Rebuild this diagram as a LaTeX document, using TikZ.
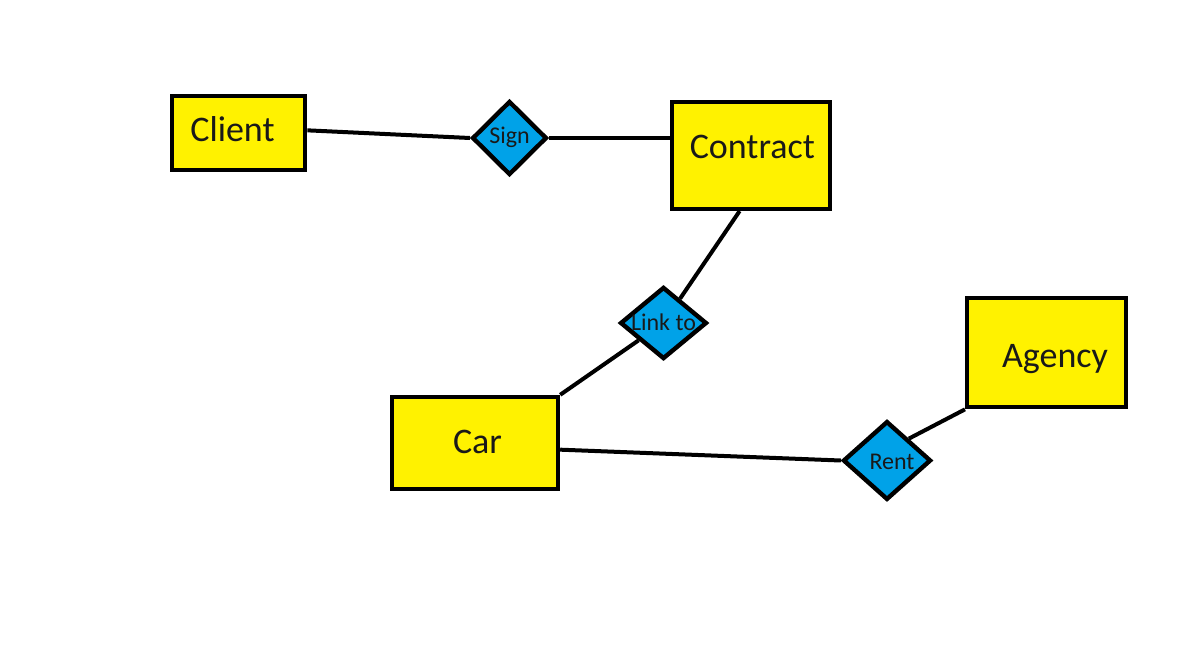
\documentclass[tikz,border=0pt]{standalone}
\usepackage{fontspec}
\setmainfont{Carlito}
\usetikzlibrary{shapes.geometric, calc}
\definecolor{boxyellow}{RGB}{255,242,0}
\definecolor{relblue}{RGB}{0,162,232}
% text set off the node centre: #1 = twice the shift to the right, #2 = baseline drop
\newcommand{\offtext}[3]{\raisebox{-#2}[0pt][0pt]{\makebox[0pt]{\kern#1\relax#3}}}

\begin{document}
\begin{tikzpicture}[x=0.75pt, y=-0.75pt,
  entity/.style={draw=black, line width=3.3pt, fill=boxyellow, inner sep=0pt,
    font=\fontsize{27}{30}\selectfont, text=black!90},
  relation/.style={draw=black, line width=3.3pt, fill=relblue, diamond, inner sep=0pt,
    font=\fontsize{18}{20}\selectfont, text=black!90},
  link/.style={line width=3pt, black}]
  \useasboundingbox (0,0) rectangle (1190,647);
  % entities
  \node[entity, minimum width=100pt, minimum height=55.5pt] (client) at (238.5,133) {\offtext{-9pt}{6pt}{Client}};
  \node[entity, minimum width=118.5pt, minimum height=80pt] (contract) at (751,155.5) {\offtext{2pt}{2.6pt}{Contract}};
  \node[entity, minimum width=124.5pt, minimum height=69pt] (car) at (475,443) {\offtext{3.8pt}{7.5pt}{Car}};
  \node[entity, minimum width=119pt, minimum height=82pt] (agency) at (1046.5,352.5) {\offtext{12.8pt}{10.9pt}{Agency}};
  % relations
  \node[relation, minimum width=56pt, minimum height=55.5pt] (sign) at (509.5,138) {\offtext{0pt}{4pt}{Sign}};
  \node[relation, minimum width=65pt, minimum height=54pt] (linkto) at (663.5,323) {\offtext{0pt}{5.8pt}{Link to}};
  \node[relation, minimum width=66pt, minimum height=59pt] (rent) at (887,460.5) {\offtext{7.5pt}{6.4pt}{Rent}};
  % connectors
  \draw[link] ([yshift=2pt]client.east) -- (sign.west);
  \draw[link] (sign.east) -- (sign.east -| contract.west);
  \draw[link] ($(contract.south west)!0.43!(contract.south east)$) -- (linkto);
  \draw[link] (linkto) -- (car.north east);
  \draw[link] ([yshift=-5pt]car.east) -- (rent.west);
  \draw[link] (rent.45) -- (agency.south west);
\end{tikzpicture}
\end{document}
